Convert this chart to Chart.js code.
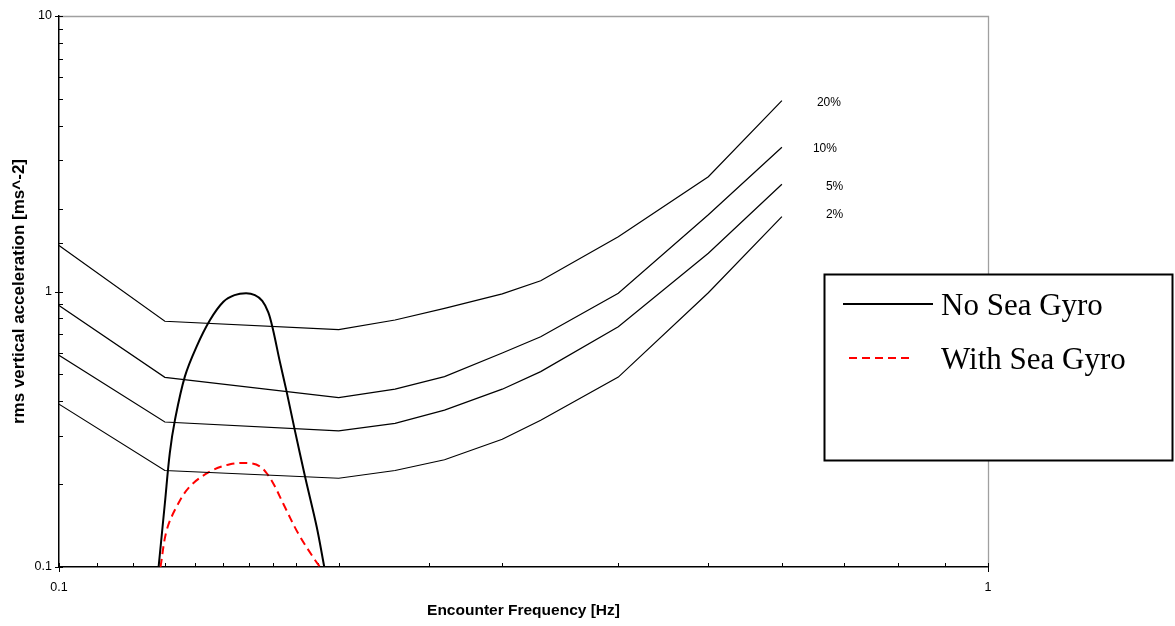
<!DOCTYPE html>
<html>
<head>
<meta charset="utf-8">
<script src="https://cdn.jsdelivr.net/npm/chart.js@4/dist/chart.umd.min.js"></script>
<style>
  html, body { margin: 0; padding: 0; background: #fff; }
  #wrap { width: 1175px; height: 626px; position: relative; }
</style>
</head>
<body>
<div id="wrap"><canvas id="accelChart"></canvas></div>
<script>
// encounter frequency points of the percentage curves
const freqHz = [0.1, 0.13, 0.2, 0.23, 0.26, 0.3, 0.33, 0.4, 0.5, 0.6];

const acc20 = [1.47, 0.78, 0.727, 0.788, 0.869, 0.98, 1.094, 1.58, 2.61, 4.93];
const acc10 = [0.89, 0.488, 0.412, 0.442, 0.491, 0.598, 0.685, 0.985, 1.9, 3.34];
const acc5 = [0.587, 0.336, 0.312, 0.332, 0.371, 0.442, 0.512, 0.745, 1.376, 2.45];
const acc2 = [0.39, 0.224, 0.21, 0.224, 0.245, 0.291, 0.341, 0.489, 0.99, 1.87];

const curveLabels = ["20%", "10%", "5%", "2%"];

// response without gyro
const noGyroFreq = [0.128, 0.13, 0.1316, 0.1333, 0.1366, 0.1406, 0.1454, 0.1503,
    0.1545, 0.159, 0.1625, 0.1655, 0.168, 0.17, 0.1728, 0.1758, 0.1794, 0.184, 0.1894, 0.193];
const noGyroAcc = [0.1, 0.17, 0.259, 0.342, 0.491, 0.63, 0.788, 0.918,
    0.97, 0.985, 0.97, 0.925, 0.84, 0.725, 0.56, 0.433, 0.314, 0.213, 0.14, 0.1];

// response with gyro
const gyroFreq = [0.1286, 0.1306, 0.1339, 0.1383, 0.1454, 0.1528, 0.1605,
    0.1645, 0.1675, 0.1705, 0.1743, 0.181, 0.1886, 0.191];
const gyroAcc = [0.1, 0.136, 0.166, 0.196, 0.222, 0.236, 0.238,
    0.232, 0.218, 0.198, 0.17, 0.132, 0.106, 0.1];

const xTickLabels = [0.1, 1];
const yTickLabels = [0.1, 1, 10];

function pts(xs, ys) {
    return xs.map((x, i) => ({ x: x, y: ys[i] }));
}

function isLabelled(list, v) {
    return list.some(t => Math.abs(t - v) < 1e-9 * Math.max(1, t));
}

function percentLine(label, values) {
    return {
        label: label,
        data: pts(freqHz, values),
        borderColor: "#000",
        borderWidth: 1.2,
        pointRadius: 0,
        tension: 0,
        isPercent: true
    };
}

const framePlugin = {
    id: "frame",
    beforeDatasetsDraw(chart) {
        const { ctx, chartArea: a } = chart;
        ctx.save();
        ctx.strokeStyle = "#a0a0a0";
        ctx.lineWidth = 1.3;
        ctx.beginPath();
        ctx.moveTo(a.left, a.top + 0.5);
        ctx.lineTo(a.right + 0.5, a.top + 0.5);
        ctx.lineTo(a.right + 0.5, a.bottom);
        ctx.stroke();

        // tick marks from the scales' own ticks
        ctx.strokeStyle = "#000";
        ctx.lineWidth = 1;
        const ys = chart.scales.y;
        ys.ticks.forEach(t => {
            const p = Math.round(ys.getPixelForValue(t.value)) + 0.5;
            const major = isLabelled(yTickLabels, t.value);
            ctx.beginPath();
            ctx.moveTo(a.left - (major ? 4 : 0), p);
            ctx.lineTo(a.left + 4, p);
            ctx.stroke();
        });
        const xs = chart.scales.x;
        xs.ticks.forEach(t => {
            const p = Math.round(xs.getPixelForValue(t.value)) + 0.5;
            const major = isLabelled(xTickLabels, t.value);
            ctx.beginPath();
            ctx.moveTo(p, a.bottom - 4);
            ctx.lineTo(p, a.bottom + (major ? 5 : 0));
            ctx.stroke();
        });
        ctx.restore();
    },
    afterDraw(chart, args, opts) {
        const { ctx } = chart;
        ctx.save();

        // labels at the end of the percentage curves
        ctx.font = "12px Arial, 'Liberation Sans', sans-serif";
        ctx.fillStyle = "#000";
        ctx.textAlign = "left";
        ctx.textBaseline = "middle";
        chart.data.datasets.forEach((ds, i) => {
            if (!ds.isPercent) return;
            const meta = chart.getDatasetMeta(i);
            const last = meta.data[meta.data.length - 1];
            const off = opts.labelOffsets[ds.label];
            ctx.fillText(ds.label, last.x + off[0], last.y + off[1]);
        });

        // legend box
        const b = opts.legendBox;
        ctx.fillStyle = "#fff";
        ctx.fillRect(b.x, b.y, b.w, b.h);
        ctx.strokeStyle = "#000";
        ctx.lineWidth = 2;
        ctx.strokeRect(b.x, b.y, b.w, b.h);

        ctx.font = "31px 'Liberation Serif', 'Times New Roman', serif";
        ctx.textBaseline = "alphabetic";
        const items = chart.data.datasets.filter(ds => !ds.isPercent);
        items.forEach((ds, k) => {
            const row = opts.legendRows[k];
            ctx.strokeStyle = ds.borderColor;
            ctx.lineWidth = ds.borderWidth;
            ctx.setLineDash(ds.borderDash || []);
            ctx.beginPath();
            ctx.moveTo(row.x1, row.lineY);
            ctx.lineTo(row.x2, row.lineY);
            ctx.stroke();
            ctx.setLineDash([]);
            ctx.fillStyle = "#000";
            ctx.fillText(ds.label, opts.legendTextX, row.baseY);
        });
        ctx.restore();
    }
};

function createAccelChart() {

    const ctx = document.getElementById("accelChart");
    if (!ctx) return;

    const tickFont = { family: "Arial, 'Liberation Sans', sans-serif", size: 12.5 };

    new Chart(ctx, {
        type: "line",
        data: {
            datasets: [
                percentLine(curveLabels[0], acc20),
                percentLine(curveLabels[1], acc10),
                percentLine(curveLabels[2], acc5),
                percentLine(curveLabels[3], acc2),
                {
                    label: "No Sea Gyro",
                    data: pts(noGyroFreq, noGyroAcc),
                    borderColor: "#000",
                    borderWidth: 2,
                    pointRadius: 0,
                    tension: 0.35
                },
                {
                    label: "With Sea Gyro",
                    data: pts(gyroFreq, gyroAcc),
                    borderColor: "#ff0000",
                    borderWidth: 2,
                    borderDash: [8, 5],
                    pointRadius: 0,
                    tension: 0.35
                }
            ]
        },
        options: {
            responsive: true,
            maintainAspectRatio: false,
            animation: false,
            layout: { padding: { left: 0, top: 16, right: 187, bottom: 0 } },
            plugins: {
                legend: { display: false },
                tooltip: { enabled: false },
                frame: {
                    labelOffsets: {
                        "20%": [35, 2],
                        "10%": [31, 1],
                        "5%": [44, 2],
                        "2%": [44, -2]
                    },
                    legendBox: { x: 824.5, y: 274.5, w: 348, h: 186 },
                    legendRows: [
                        { x1: 843, x2: 933, lineY: 304, baseY: 315 },
                        { x1: 849, x2: 914, lineY: 358, baseY: 369 }
                    ],
                    legendTextX: 941
                }
            },
            scales: {
                x: {
                    type: "logarithmic",
                    position: "bottom",
                    min: 0.1,
                    max: 1,
                    afterFit: s => { s.height = 59; },
                    grid: { display: false, drawTicks: false },
                    border: { display: true, color: "#000", width: 1.5 },
                    ticks: {
                        autoSkip: false,
                        maxRotation: 0,
                        padding: 13,
                        color: "#000",
                        font: tickFont,
                        callback: v => isLabelled(xTickLabels, v) ? String(v) : ""
                    },
                    title: {
                        display: true,
                        text: "Encounter Frequency [Hz]",
                        color: "#000",
                        font: { family: "Arial, 'Liberation Sans', sans-serif", size: 15.5, weight: "bold" },
                        padding: { top: 0, bottom: 6 }
                    }
                },
                y: {
                    type: "logarithmic",
                    position: "left",
                    min: 0.1,
                    max: 10,
                    afterFit: s => { s.width = 59; },
                    grid: { display: false, drawTicks: false },
                    border: { display: true, color: "#000", width: 1.5 },
                    ticks: {
                        autoSkip: false,
                        padding: 7,
                        color: "#000",
                        font: tickFont,
                        callback: v => isLabelled(yTickLabels, v) ? String(v) : ""
                    },
                    title: {
                        display: true,
                        text: "rms vertical acceleration [ms^-2]",
                        color: "#000",
                        font: { family: "Arial, 'Liberation Sans', sans-serif", size: 17, weight: "bold" },
                        padding: { top: 9, bottom: 0 }
                    }
                }
            }
        },
        plugins: [framePlugin]
    });
}

createAccelChart();
</script>
</body>
</html>
